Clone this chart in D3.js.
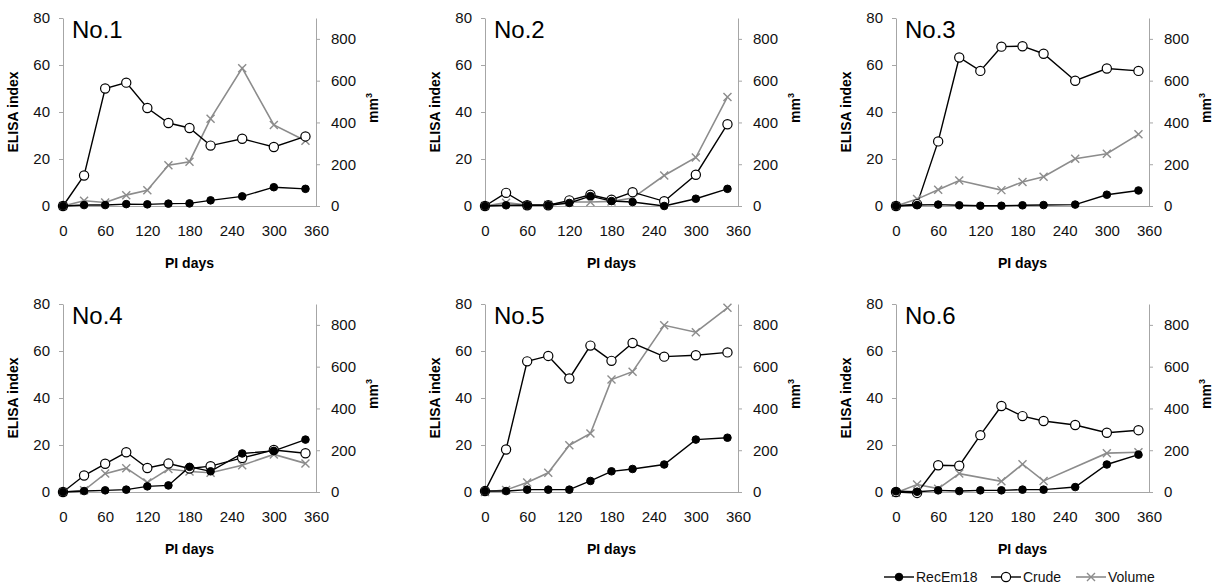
<!DOCTYPE html>
<html>
<head>
<meta charset="utf-8">
<script src="https://cdn.jsdelivr.net/npm/d3@7"></script>
<style>
  body { margin: 0; background: #fff; }
  svg { font-family: "Liberation Sans", Arial, sans-serif; }
</style>
</head>
<body>
<div id="chart"></div>
<script>
// Data
const panelNames = ['No.1', 'No.2', 'No.3', 'No.4', 'No.5', 'No.6'];
const days = [0, 30, 60, 90, 120, 150, 180, 210, 255, 300, 345];
const xTicks = [0, 60, 120, 180, 240, 300, 360];
const leftTicks = [0, 20, 40, 60, 80];
const rightTicks = [0, 200, 400, 600, 800];

// ELISA index, one row per animal
const recEm18 = [
  [0, 0.4, 0.4, 0.8, 0.7, 1.0, 1.1, 2.4, 4.1, 8.0, 7.3],
  [0, 0.3, 0.3, 0.3, 1.3, 4.2, 2.1, 1.7, 0, 3.1, 7.3],
  [0, 0.4, 0.6, 0.3, 0.1, 0.1, 0.3, 0.4, 0.6, 4.8, 6.6],
  [0, 0.4, 0.7, 1.0, 2.4, 2.8, 10.7, 8.8, 16.4, 17.5, 22.3],
  [0.4, 0.4, 1.0, 1.0, 1.0, 4.7, 8.8, 9.8, 11.7, 22.3, 23.1],
  [0.3, 0.1, 0.7, 0.4, 0.7, 0.7, 1.0, 1.0, 2.1, 11.7, 15.9]
];
const crude = [
  [0, 13.0, 50.0, 52.5, 41.7, 35.3, 33.2, 25.7, 28.6, 25.1, 29.6],
  [0, 5.6, 0.3, 0.3, 2.4, 4.8, 2.7, 5.9, 2.0, 13.3, 34.8],
  [0, 0.8, 27.5, 63.2, 57.5, 67.8, 68.0, 64.8, 53.3, 58.5, 57.5],
  [0, 7.0, 12.0, 16.9, 10.2, 12.1, 10.0, 11.0, 14.5, 17.9, 16.5],
  [0.4, 18.1, 55.6, 57.9, 48.3, 62.3, 55.8, 63.4, 57.6, 58.2, 59.4],
  [0, -0.4, 11.4, 11.2, 24.2, 36.6, 32.3, 30.2, 28.5, 25.2, 26.3]
];
// tumour volume, mm3 (null = not measured)
const volume = [
  [0, 25, 17, 52, 75, 195, 212, 418, 660, 388, 312],
  [0, 16, 4, 6, 19, 19, 22, 38, 146, 232, 522],
  [0, 33, 78, 122, null, 76, 115, 140, 226, 250, 343],
  [0, 8, 88, 114, 46, 110, 98, 92, 128, 180, 137],
  [0, 10, 46, 92, 224, 280, 538, 576, 798, 765, 882],
  [-4, 36, 16, 88, null, 51, 133, 53, null, 186, 190]
];

const colOffsets = [63, 485, 896];
const rowOffsets = [18, 304];
const plotW = 253;
const plotH = 188;
const axisGray = '#a6a6a6';
const volGray = '#8c8c8c';

const svg = d3
  .select('#chart')
  .append('svg')
  .attr('width', 1213)
  .attr('height', 585);

const x = d3.scaleLinear().domain([0, 360]).range([0, plotW]);
const yLeft = d3.scaleLinear().domain([0, 80]).range([plotH, 0]);
const yRight = d3.scaleLinear().domain([0, 900]).range([plotH, 0]);

function styleAxis(g) {
  g.select('.domain').attr('stroke', axisGray);
  g.selectAll('.tick line').attr('stroke', axisGray);
  g.selectAll('.tick text')
    .attr('fill', '#111')
    .style('font-size', '15px');
}

function drawMarker(g, type, px, py, color) {
  if (type === 'filled') {
    g.append('circle').attr('cx', px).attr('cy', py).attr('r', 3.8)
      .attr('fill', '#000').attr('stroke', '#000');
  } else if (type === 'open') {
    g.append('circle').attr('cx', px).attr('cy', py).attr('r', 4.6)
      .attr('fill', '#fff').attr('stroke', '#000').attr('stroke-width', 1.2);
  } else {
    const s = 4;
    g.append('path')
      .attr('d', `M${px - s},${py - s}L${px + s},${py + s}M${px - s},${py + s}L${px + s},${py - s}`)
      .attr('stroke', color).attr('stroke-width', 1.4).attr('fill', 'none');
  }
}

panelNames.forEach((name, i) => {
  const gx = colOffsets[i % 3];
  const gy = rowOffsets[Math.floor(i / 3)];
  const g = svg.append('g').attr('transform', 'translate(' + gx + ',' + gy + ')');

  // axes
  g.append('g')
    .attr('transform', 'translate(0,' + plotH + ')')
    .call(d3.axisBottom(x).tickValues(xTicks).tickSize(0).tickPadding(19))
    .call(styleAxis);

  g.append('g')
    .call(d3.axisLeft(yLeft).tickValues(leftTicks).tickSize(4).tickPadding(9).tickSizeOuter(0))
    .call(styleAxis);

  g.append('g')
    .attr('transform', 'translate(' + plotW + ',0)')
    .call(d3.axisRight(yRight).tickValues(rightTicks).tickSize(4).tickPadding(11).tickSizeOuter(0))
    .call(styleAxis);

  // axis titles
  g.append('text')
    .attr('x', plotW / 2)
    .attr('y', plotH + 62)
    .attr('text-anchor', 'middle')
    .style('font-size', '14px')
    .style('font-weight', 'bold')
    .text('PI days');

  g.append('text')
    .attr('transform', 'translate(-45,' + plotH / 2 + ') rotate(-90)')
    .attr('text-anchor', 'middle')
    .style('font-size', '14px')
    .style('font-weight', 'bold')
    .text('ELISA index');

  const mm = g.append('text')
    .attr('transform', 'translate(' + (plotW + 62) + ',' + (plotH / 2 - 4) + ') rotate(-90)')
    .attr('text-anchor', 'middle')
    .style('font-size', '14px')
    .style('font-weight', 'bold');
  mm.append('tspan').text('mm');
  mm.append('tspan').attr('dy', -6).style('font-size', '9px').text('3');

  // panel label
  g.append('text')
    .attr('x', 9)
    .attr('y', 20)
    .style('font-size', '24px')
    .text(name);

  // series
  const series = [
    { vals: volume[i], y: yRight, color: volGray, type: 'cross' },
    { vals: crude[i], y: yLeft, color: '#000', type: 'open' },
    { vals: recEm18[i], y: yLeft, color: '#000', type: 'filled' }
  ];

  // lines first, then markers
  series.forEach((s) => {
    const pts = days
      .map((d, j) => ({ d: d, v: s.vals[j] }))
      .filter((p) => p.v !== null);
    s.pts = pts;
    const line = d3.line()
      .x((p) => x(p.d))
      .y((p) => s.y(p.v));
    g.append('path')
      .datum(pts)
      .attr('d', line)
      .attr('fill', 'none')
      .attr('stroke', s.color)
      .attr('stroke-width', s.type === 'cross' ? 1.6 : 1.4);
  });
  series.forEach((s) => {
    s.pts.forEach((p) => drawMarker(g, s.type, x(p.d), s.y(p.v), s.color));
  });
});

// legend
const legendItems = [
  { label: 'RecEm18', type: 'filled', color: '#000', x: 884 },
  { label: 'Crude', type: 'open', color: '#000', x: 991 },
  { label: 'Volume', type: 'cross', color: volGray, x: 1076 }
];
const legend = svg.append('g');
legendItems.forEach((d) => {
  legend.append('line')
    .attr('x1', d.x).attr('x2', d.x + 30)
    .attr('y1', 577).attr('y2', 577)
    .attr('stroke', d.color)
    .attr('stroke-width', d.type === 'cross' ? 1.6 : 1.4);
  drawMarker(legend, d.type, d.x + 15, 577, d.color);
  legend.append('text')
    .attr('x', d.x + 32)
    .attr('y', 582)
    .style('font-size', '14px')
    .attr('fill', '#111')
    .text(d.label);
});
</script>
</body>
</html>
